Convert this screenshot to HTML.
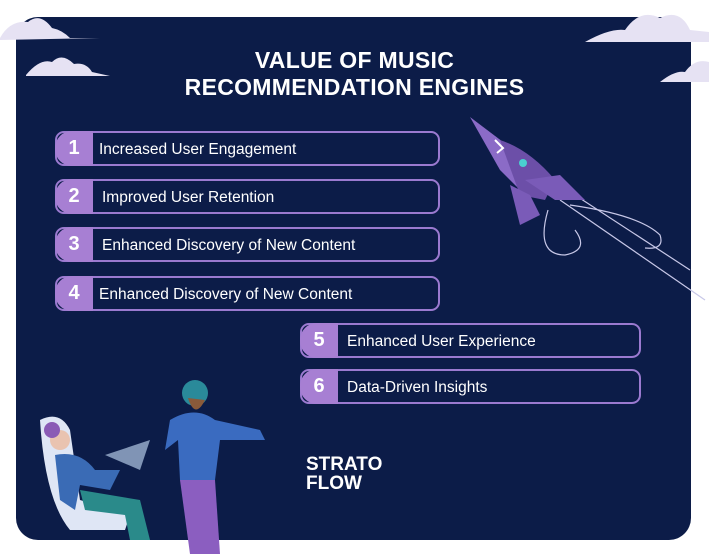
<!DOCTYPE html>
<html><head><meta charset="utf-8"><style>
body{margin:0;width:709px;height:554px;background:#fff;position:relative;overflow:hidden;font-family:"Liberation Sans",sans-serif}
.card{position:absolute;left:16px;top:17px;width:675px;height:523px;background:#0c1c48;border-radius:22px}
.title{position:absolute;left:0;width:709px;top:47px;text-align:center;color:#fff;font-weight:bold;font-size:23px;line-height:27px;letter-spacing:0.3px}
.item{position:absolute;height:35px;border:2px solid #9b7ad0;border-radius:9px;box-sizing:border-box;background:#0c1c48}
.item .n{position:absolute;left:-2px;top:-2px;width:38px;height:35px;background:#a77fd3;border-radius:17px 0 0 17px;color:#fff;font-weight:bold;font-size:20px;line-height:35px;text-align:center}
.item .t{position:absolute;left:42px;top:1px;line-height:31px;color:#fff;font-size:15.5px}
.logo{position:absolute;left:306px;top:455px;color:#fff;font-weight:bold;font-size:19px;line-height:19px}
</style></head><body>
<div class="card"></div>
<svg style="position:absolute;left:0;top:0" width="709" height="554">
<g fill="#e6e2f3">
<path d="M0 38 Q10 20 28 22 Q40 12 52 28 Q62 30 70 38 L100 38 L0 40Z"/>
<path d="M26 75 Q40 58 52 62 Q62 52 74 64 Q86 62 92 72 L110 76 L26 76Z"/>
<path d="M585 42 Q610 28 625 30 Q640 8 660 18 Q680 8 690 30 L709 32 L709 42Z"/>
<path d="M660 82 Q675 70 685 72 Q695 58 709 62 L709 82Z"/>
</g>
<g stroke="#c8c8e8" stroke-width="1.2" fill="none">
<path d="M560 200 L705 300"/><path d="M575 195 L690 270"/>
<path d="M548 210 Q535 255 565 255 Q590 250 575 230"/>
<path d="M570 205 Q640 215 660 235 Q665 250 645 248"/>
</g>
<path d="M470 117 L540 170 L525 195 L500 170Z" fill="#8b6bc7"/>
<path d="M500 140 Q530 150 555 180 L545 200 L520 195Z" fill="#6c4fa8"/>
<path d="M525 180 L560 175 L585 200 L555 200Z" fill="#7a5bb8"/>
<path d="M510 185 L520 225 L540 215 L530 195Z" fill="#7a5bb8"/>
<circle cx="523" cy="163" r="4" fill="#4ad0d0"/>
<path d="M495 140 L503 148 L497 153" stroke="#fff" stroke-width="2" fill="none"/>
<path d="M40 420 Q60 410 70 430 L80 500 L130 515 L125 530 L70 530 Q45 500 40 420Z" fill="#dfe6f5"/>
<circle cx="60" cy="440" r="10" fill="#e9c3b0"/><circle cx="52" cy="430" r="8" fill="#8a5bb5"/>
<path d="M55 455 Q80 450 95 470 L120 470 L110 490 L80 485 L75 510 L60 500Z" fill="#3a6bb5"/>
<path d="M80 490 L140 500 L150 540 L130 540 L125 515 L85 510Z" fill="#2a8a8a"/>
<path d="M105 455 L150 440 L140 470Z" fill="#cfe4ff" opacity=".6"/>
<circle cx="195" cy="393" r="13" fill="#2a8a9a"/><path d="M188 398 Q195 420 205 400Z" fill="#8a5a3a"/>
<path d="M170 420 Q195 405 215 420 L260 430 L265 440 L220 440 L215 480 L180 480 L178 440 L165 450Z" fill="#3a6bc0"/>
<path d="M180 480 L215 480 L220 554 L190 554Z" fill="#8b5ec0"/>
</svg>
<div class="title">VALUE OF MUSIC<br>RECOMMENDATION ENGINES</div>
<div class="item" style="left:55px;top:131px;width:385px"><div class="n">1</div><div class="t">Increased User Engagement</div></div>
<div class="item" style="left:55px;top:179px;width:385px"><div class="n">2</div><div class="t" style="left:45px">Improved User Retention</div></div>
<div class="item" style="left:55px;top:227px;width:385px"><div class="n">3</div><div class="t" style="left:45px">Enhanced Discovery of New Content</div></div>
<div class="item" style="left:55px;top:276px;width:385px"><div class="n">4</div><div class="t">Enhanced Discovery of New Content</div></div>
<div class="item" style="left:300px;top:323px;width:341px"><div class="n">5</div><div class="t" style="left:45px">Enhanced User Experience</div></div>
<div class="item" style="left:300px;top:369px;width:341px"><div class="n">6</div><div class="t" style="left:45px">Data-Driven Insights</div></div>
<div class="logo">STRATO<br>FLOW</div>
</body></html>
